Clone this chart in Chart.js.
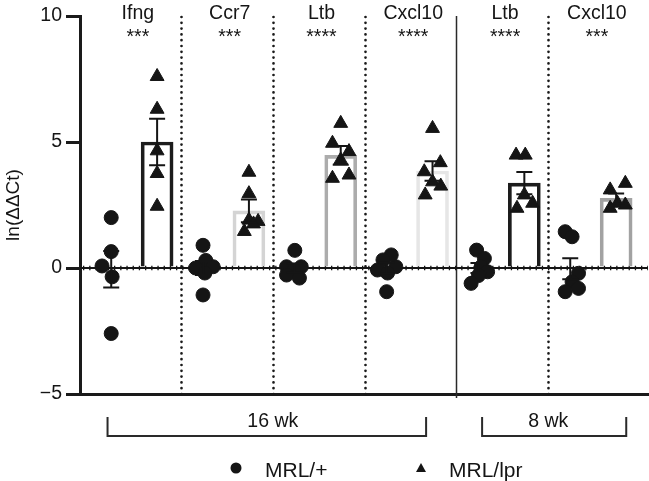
<!DOCTYPE html>
<html>
<head>
<meta charset="utf-8">
<script src="https://cdn.jsdelivr.net/npm/chart.js@4/dist/chart.umd.min.js"></script>
<style>
html,body{margin:0;padding:0;background:#ffffff;}
canvas{display:block;}
</style>
</head>
<body>
<canvas id="chart" width="649" height="481"></canvas>
<script>
// ---------------- DATA ----------------
const genes = ['Ifng', 'Ccr7', 'Ltb', 'Cxcl10', 'Ltb', 'Cxcl10'];
const stars = ['***', '***', '****', '****', '****', '***'];
const ageLabels = ['16 wk', '8 wk'];
const agePanels = [[0, 4], [4, 6]];        // panels covered by each age group
const seriesNames = ['MRL/+', 'MRL/lpr'];
const yTickValues = [-5, 0, 5, 10];

// MRL/+ individual values (ln ΔΔCt)
const ctrlValues = [
  [2.0, 0.65, 0.08, -0.35, -2.6],
  [0.9, 0.3, 0.0, 0.05, -0.2, -1.07],
  [0.7, 0.05, 0.05, -0.08, -0.28, -0.4],
  [0.52, 0.32, 0.05, -0.08, -0.2, -0.94],
  [0.71, 0.38, 0.05, -0.15, -0.3, -0.61],
  [1.44, 1.24, -0.21, -0.55, -0.81, -0.94]
];
const ctrlJitter = [
  [0, 0, -0.1, 0.01, 0],
  [0, 0.03, -0.08, 0.11, 0.02, 0],
  [0, -0.09, 0.07, -0.01, -0.09, 0.05],
  [0.05, -0.04, 0.1, -0.1, 0.01, 0],
  [-0.02, 0.065, 0.03, 0.1, 0.0, -0.08],
  [-0.055, 0.02, 0.09, 0.02, 0.09, -0.055]
];
const ctrlMean = [-0.05, 0.0, 0.0, 0.0, 0.0, -0.03];
const ctrlSem  = [0.72, 0.28, 0.17, 0.21, 0.2, 0.42];

// MRL/lpr individual values (ln ΔΔCt)
const lprValues = [
  [7.6, 6.3, 4.65, 3.75, 2.45],
  [3.8, 2.95, 1.9, 1.85, 1.75, 1.45],
  [5.74, 4.95, 4.62, 4.29, 3.69, 3.56],
  [5.54, 4.18, 3.82, 3.42, 3.25, 2.9],
  [4.48, 4.48, 2.9, 2.57, 2.37],
  [3.36, 3.1, 2.57, 2.5, 2.37]
];
const lprJitter = [
  [0, 0, 0, 0, 0],
  [0, 0, 0.0, 0.1, 0.05, -0.05],
  [0, -0.09, 0.09, 0, 0.09, -0.09],
  [0, 0.085, -0.09, 0, 0.09, -0.08],
  [-0.09, 0.01, 0, 0.09, -0.08],
  [0.1, -0.065, 0.015, 0.1, -0.065]
];
const lprMean = [5.0, 2.27, 4.47, 3.85, 3.37, 2.76];
const lprSem  = [0.92, 0.45, 0.37, 0.39, 0.44, 0.2];

// ---------------- STYLE / LAYOUT ----------------
const CTRL_POS = 0.24, LPR_POS = 0.74;
const barColors = ['#1c1c1c', '#d4d4d4', '#acacac', '#e6e6e6', '#1c1c1c', '#a2a2a2'];
const INK = '#151515';
const FONT = '"Liberation Sans", Arial, Helvetica, sans-serif';

const ctrlPoints = [];
ctrlValues.forEach((vals, i) => vals.forEach((v, k) => ctrlPoints.push({x: i + CTRL_POS + ctrlJitter[i][k], y: v})));
const lprPoints = [];
lprValues.forEach((vals, i) => vals.forEach((v, k) => lprPoints.push({x: i + LPR_POS + lprJitter[i][k], y: v})));
const barPoints = lprMean.map((m, i) => ({x: i + LPR_POS, y: m}));

const decor = {
  id: 'decor',
  beforeDatasetsDraw(chart) {
    const {ctx, chartArea: a, scales: {x, y}} = chart;
    ctx.save();
    // panel separators
    const solidAt = agePanels.slice(1).map(g => g[0]);
    for (let b = 1; b < genes.length; b++) {
      const px = Math.round(x.getPixelForValue(b)) + 0.5;
      ctx.beginPath();
      if (solidAt.includes(b)) {
        ctx.setLineDash([]);
        ctx.lineWidth = 1.5;
        ctx.strokeStyle = '#2a2a2a';
        ctx.lineCap = 'butt';
        ctx.moveTo(px, a.top);
        ctx.lineTo(px, a.bottom + 4);
      } else {
        ctx.setLineDash([0, 5.8]);
        ctx.lineWidth = 2.7;
        ctx.strokeStyle = '#1a1a1a';
        ctx.lineCap = 'round';
        ctx.moveTo(px, a.top + 1);
        ctx.lineTo(px, a.bottom + 5);
      }
      ctx.stroke();
    }
    // zero line
    const y0 = y.getPixelForValue(0);
    ctx.setLineDash([]);
    ctx.lineCap = 'butt';
    ctx.strokeStyle = INK;
    ctx.lineWidth = 2;
    ctx.beginPath(); ctx.moveTo(a.left, y0); ctx.lineTo(a.right, y0); ctx.stroke();
    ctx.setLineDash([1.3, 4.9]);
    ctx.lineWidth = 4.5;
    ctx.beginPath(); ctx.moveTo(a.left + 3, y0); ctx.lineTo(a.right, y0); ctx.stroke();
    ctx.restore();
  },
  afterDatasetsDraw(chart) {
    const {ctx, scales: {x, y}} = chart;
    ctx.save();
    ctx.strokeStyle = INK;
    ctx.lineWidth = 2;
    const drawErr = (cx, m, s) => {
      const px = x.getPixelForValue(cx);
      const t = y.getPixelForValue(m + s), b = y.getPixelForValue(m - s);
      ctx.beginPath();
      ctx.moveTo(px, t); ctx.lineTo(px, b);
      ctx.moveTo(px - 8, t); ctx.lineTo(px + 8, t);
      ctx.moveTo(px - 8, b); ctx.lineTo(px + 8, b);
      ctx.stroke();
    };
    for (let i = 0; i < genes.length; i++) {
      drawErr(i + CTRL_POS, ctrlMean[i], ctrlSem[i]);
      drawErr(i + LPR_POS, lprMean[i], lprSem[i]);
    }
    ctx.restore();
  },
  afterDraw(chart) {
    const {ctx, chartArea: a, scales: {x}} = chart;
    ctx.save();
    ctx.fillStyle = INK;
    ctx.textAlign = 'center';
    ctx.textBaseline = 'alphabetic';
    // gene names and significance
    for (let i = 0; i < genes.length; i++) {
      const cx = x.getPixelForValue(i + 0.53);
      ctx.font = '19.5px ' + FONT;
      ctx.fillText(genes[i], cx, a.top + 3);
      ctx.fillText(stars[i], cx, a.top + 26.5);
    }
    // age brackets
    const insets = [[0.2, 0.33], [0.28, 0.15]];
    ctx.strokeStyle = '#2a2a2a';
    ctx.lineWidth = 2;
    agePanels.forEach((g, k) => {
      const l = x.getPixelForValue(g[0] + insets[k][0]);
      const r = x.getPixelForValue(g[1] - insets[k][1]);
      const yt = a.bottom + 23, yb = a.bottom + 42;
      ctx.beginPath();
      ctx.moveTo(l, yt); ctx.lineTo(l, yb); ctx.lineTo(r, yb); ctx.lineTo(r, yt);
      ctx.stroke();
      ctx.font = '19.5px ' + FONT;
      ctx.fillText(ageLabels[k], x.getPixelForValue((g[0] + g[1]) / 2), a.bottom + 33);
    });
    // legend
    const ly = a.bottom + 74;
    ctx.beginPath();
    ctx.arc(236, ly, 5.5, 0, Math.PI * 2);
    ctx.fill();
    ctx.beginPath();
    ctx.moveTo(421, ly - 5); ctx.lineTo(426, ly + 4); ctx.lineTo(416, ly + 4); ctx.closePath();
    ctx.fill();
    ctx.textAlign = 'left';
    ctx.font = '21px ' + FONT;
    ctx.fillText(seriesNames[0], 265, ly + 8.5);
    ctx.fillText(seriesNames[1], 449, ly + 8.5);
    ctx.restore();
  }
};

new Chart(document.getElementById('chart'), {
  type: 'scatter',
  data: {
    datasets: [
      {
        type: 'bar',
        label: 'MRL/lpr mean',
        data: barPoints,
        backgroundColor: 'rgba(255,255,255,0)',
        borderColor: barColors,
        borderWidth: 3,
        borderSkipped: 'start',
        barThickness: 32,
        order: 3
      },
      {
        label: seriesNames[1],
        data: lprPoints,
        pointStyle: 'triangle',
        pointRadius: 8,
        borderWidth: 1,
        backgroundColor: INK,
        borderColor: INK,
        order: 1
      },
      {
        label: seriesNames[0],
        data: ctrlPoints,
        pointStyle: 'circle',
        pointRadius: 7,
        borderWidth: 1,
        backgroundColor: INK,
        borderColor: INK,
        order: 2
      }
    ]
  },
  options: {
    responsive: false,
    devicePixelRatio: 1,
    animation: false,
    events: [],
    layout: {autoPadding: false, padding: {top: 16, right: 1, left: 0, bottom: 0}},
    plugins: {legend: {display: false}, tooltip: {enabled: false}},
    scales: {
      x: {
        type: 'linear',
        offset: false,
        min: -0.1,
        max: 6.087,
        ticks: {display: false},
        grid: {display: true, drawOnChartArea: false, drawTicks: false},
        border: {display: true, width: 3, color: '#1a1a1a'},
        afterFit(s) { s.height = 87; }
      },
      y: {
        type: 'linear',
        min: -5,
        max: 10,
        afterBuildTicks(s) { s.ticks = yTickValues.map(v => ({value: v})); },
        ticks: {
          color: INK,
          padding: 4,
          font: {family: FONT, size: 19.5},
          callback: v => (v < 0 ? '\u2212' + Math.abs(v) : String(v))
        },
        grid: {drawOnChartArea: false, drawTicks: true, tickLength: 14, lineWidth: 3, color: '#1a1a1a'},
        border: {display: true, width: 3, color: '#1a1a1a'},
        title: {display: true, text: 'ln(ΔΔCt)', color: INK, font: {family: FONT, size: 19}, padding: {top: 2, bottom: 0}},
        afterFit(s) { s.width = 80; }
      }
    }
  },
  plugins: [decor]
});
</script>
</body>
</html>
